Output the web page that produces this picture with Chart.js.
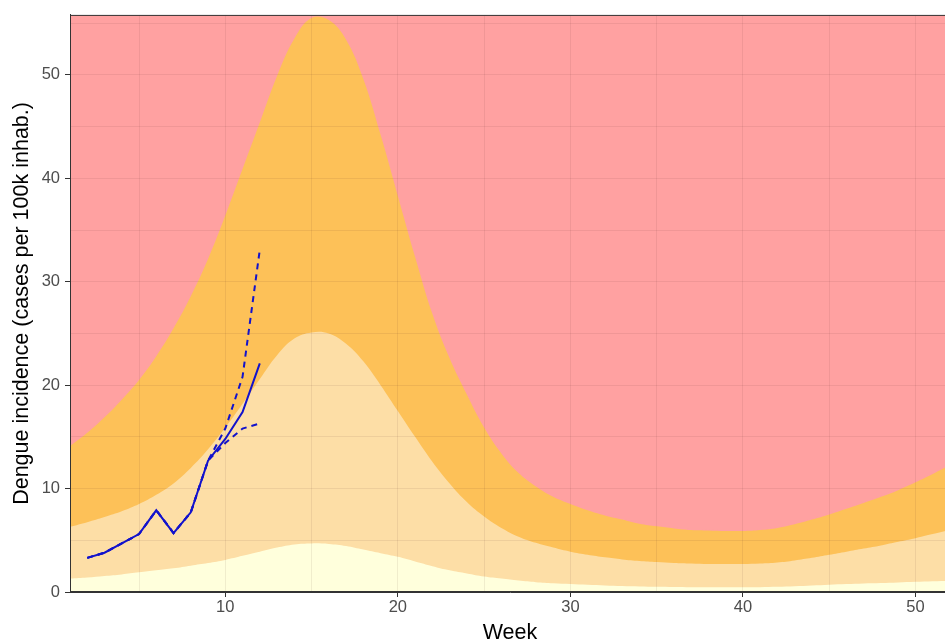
<!DOCTYPE html>
<html>
<head>
<meta charset="utf-8">
<title>Dengue incidence</title>
<script src="https://cdn.jsdelivr.net/npm/chart.js@4"></script>
<style>
  html, body { margin: 0; padding: 0; background: #fff; overflow: hidden; }
  #wrap { width: 950px; height: 644px; }
</style>
</head>
<body>
<div id="wrap"><canvas id="chart" width="950" height="644"></canvas></div>
<script>
// epidemic weeks for the threshold bands
const weeks = [1, 2, 3, 4, 5, 6, 7, 8, 9, 10, 11, 12, 13, 14, 15, 16, 17, 18, 19, 20,
  21, 22, 23, 24, 25, 26, 27, 28, 29, 30, 31, 32, 33, 34, 35, 36, 37, 38, 39, 40,
  41, 42, 43, 44, 45, 46, 47, 48, 49, 50, 51, 52];

// band limits (cases per 100k)
const lowLimit = [1.3, 1.4, 1.55, 1.7, 1.9, 2.1, 2.3, 2.55, 2.8, 3.1, 3.5, 3.9, 4.3, 4.6, 4.7, 4.65, 4.45, 4.1, 3.75, 3.4,
  2.95, 2.5, 2.1, 1.8, 1.5, 1.3, 1.1, 0.95, 0.85, 0.77, 0.7, 0.64, 0.58, 0.54, 0.5, 0.48, 0.46, 0.45, 0.45, 0.45,
  0.47, 0.5, 0.55, 0.62, 0.7, 0.77, 0.83, 0.88, 0.93, 0.98, 1.03, 1.08];
const midLimit = [6.3, 6.75, 7.25, 7.8, 8.5, 9.4, 10.5, 12.0, 13.8, 15.9, 18.2, 20.6, 22.9, 24.5, 25.1, 25.0, 24.0, 22.3, 20.0, 17.5,
  15.0, 12.6, 10.5, 8.7, 7.3, 6.2, 5.35, 4.75, 4.3, 3.9, 3.6, 3.35, 3.15, 3.0, 2.9, 2.8, 2.75, 2.7, 2.7, 2.7,
  2.75, 2.85, 3.05, 3.3, 3.6, 3.9, 4.2, 4.5, 4.85, 5.2, 5.6, 6.0];
const highLimit = [14.1, 15.4, 16.9, 18.6, 20.5, 22.8, 25.5, 28.6, 32.2, 36.4, 40.9, 45.4, 49.9, 53.5, 55.5, 55.3, 53.4, 49.6, 44.2, 38.3,
  32.4, 26.9, 22.6, 19.1, 15.9, 13.4, 11.5, 10.2, 9.2, 8.5, 7.9, 7.4, 7.0, 6.6, 6.35, 6.15, 6.0, 5.95, 5.9, 5.9,
  6.0, 6.2, 6.55, 7.0, 7.5, 8.05, 8.6, 9.2, 9.85, 10.6, 11.4, 12.3];

// observed incidence and nowcast interval
const obsWeeks = [2, 3, 4, 5, 6, 7, 8, 9, 10, 11, 12];
const estimate = [3.3, 3.8, 4.7, 5.6, 7.9, 5.7, 7.7, 12.7, 14.8, 17.4, 22.1];
const upperCI = [3.3, 3.8, 4.7, 5.6, 7.9, 5.7, 7.7, 12.7, 15.8, 20.8, 33.1];
const lowerCI = [3.3, 3.8, 4.7, 5.6, 7.9, 5.7, 7.7, 12.7, 14.4, 15.8, 16.3];

// gridline positions
const xTicks = [5, 10, 15, 20, 25, 30, 35, 40, 45, 50];
const yTicks = [0, 5, 10, 15, 20, 25, 30, 35, 40, 45, 50, 55];

const pts = (xs, ys) => xs.map((x, i) => ({ x: x, y: ys[i] }));

// edge: stroke the band limit in its own colour so no pale seam shows
const band = (ys, fill, color, edge) => ({
  data: pts(weeks, ys),
  fill: fill,
  backgroundColor: color,
  borderColor: color,
  borderWidth: edge || 0,
  pointRadius: 0,
  tension: 0.4
});

const curve = (ys, dash) => ({
  data: pts(obsWeeks, ys),
  fill: false,
  borderColor: '#1212CC',
  borderWidth: 2,
  borderDash: dash,
  pointRadius: 0,
  tension: 0
});

// outline round the whole plotting panel
const panelBox = {
  id: 'panelBox',
  afterDraw(chart) {
    const { ctx, chartArea: a } = chart;
    ctx.save();
    ctx.strokeStyle = '#333333';
    ctx.lineWidth = 1;
    ctx.strokeRect(a.left + 0.5, a.top + 0.5, a.right - a.left - 1, a.bottom - a.top - 1);
    ctx.restore();
  }
};

Chart.defaults.font.family = "'Liberation Sans', Arial, sans-serif";

const gridColor = 'rgba(70, 20, 20, 0.08)';
const tickMark = (ctx) => (ctx.tick && ctx.tick.value % 10 === 0) ? '#333333' : 'rgba(0,0,0,0)';

new Chart(document.getElementById('chart'), {
  type: 'line',
  data: {
    datasets: [
      curve(estimate, []),
      curve(upperCI, [6, 5]),
      curve(lowerCI, [6, 5]),
      band(lowLimit, 'origin', '#FFFFDC'),
      band(midLimit, 'origin', '#FDDEA6'),
      band(highLimit, 'origin', '#FDC158'),
      band(highLimit, 'end', '#FFA1A1', 2)
    ]
  },
  options: {
    responsive: false,
    animation: false,
    devicePixelRatio: 1,
    layout: { padding: { top: 11, left: 0, right: 0, bottom: 0 } },
    plugins: { legend: { display: false }, tooltip: { enabled: false } },
    scales: {
      x: {
        type: 'linear',
        min: 1,
        max: 52,
        afterBuildTicks: (scale) => { scale.ticks = xTicks.map(v => ({ value: v })); },
        afterFit: (scale) => { scale.height = 52; },
        grid: { z: 1, color: gridColor, lineWidth: 1, tickLength: 5, tickColor: tickMark },
        border: { display: true, color: '#333333', width: 1, z: 2 },
        ticks: {
          autoSkip: false,
          maxRotation: 0,
          padding: 1,
          color: '#4D4D4D',
          font: { size: 16.5 },
          callback: (v) => v % 10 === 0 ? v : ''
        },
        title: { display: true, text: 'Week', color: '#000', font: { size: 21.5, lineHeight: 1 }, padding: { top: 0, bottom: 0 } }
      },
      y: {
        min: 0,
        max: 55.8,
        afterBuildTicks: (scale) => { scale.ticks = yTicks.map(v => ({ value: v })); },
        afterFit: (scale) => { scale.width = 70; },
        grid: { z: 1, color: gridColor, lineWidth: 1, tickLength: 5, tickColor: tickMark },
        border: { display: true, color: '#333333', width: 1, z: 2 },
        ticks: {
          padding: 5,
          color: '#4D4D4D',
          font: { size: 16.5 },
          callback: (v) => v % 10 === 0 ? v : ''
        },
        title: {
          display: true,
          text: 'Dengue incidence (cases per 100k inhab.)',
          color: '#000',
          font: { size: 21.5, lineHeight: 1 },
          padding: { top: 11, bottom: 0 }
        }
      }
    }
  },
  plugins: [panelBox]
});
</script>
</body>
</html>
